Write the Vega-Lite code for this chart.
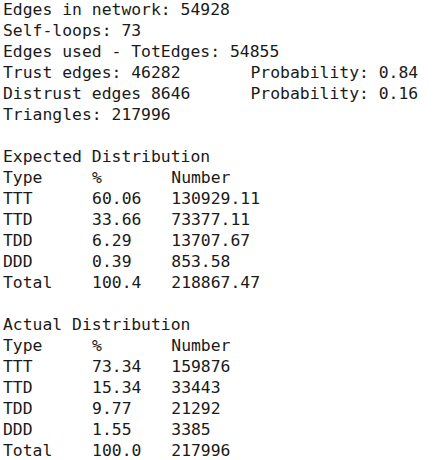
{
  "$schema": "https://vega.github.io/schema/vega-lite/v6.json",
  "width": 433,
  "height": 460,
  "padding": 0,
  "autosize": "none",
  "background": "white",
  "config": {"view": {"stroke": null}},
  "data": {
    "values": [
      {"line": 0, "col": 0, "text": "Edges in network: 54928"},
      {"line": 1, "col": 0, "text": "Self-loops: 73"},
      {"line": 2, "col": 0, "text": "Edges used - TotEdges: 54855"},
      {"line": 3, "col": 0, "text": "Trust edges: 46282"},
      {"line": 3, "col": 25, "text": "Probability: 0.84"},
      {"line": 4, "col": 0, "text": "Distrust edges 8646"},
      {"line": 4, "col": 25, "text": "Probability: 0.16"},
      {"line": 5, "col": 0, "text": "Triangles: 217996"},
      {"line": 7, "col": 0, "text": "Expected Distribution"},
      {"line": 8, "col": 0, "text": "Type"},
      {"line": 8, "col": 9, "text": "%"},
      {"line": 8, "col": 17, "text": "Number"},
      {"line": 9, "col": 0, "text": "TTT"},
      {"line": 9, "col": 9, "text": "60.06"},
      {"line": 9, "col": 17, "text": "130929.11"},
      {"line": 10, "col": 0, "text": "TTD"},
      {"line": 10, "col": 9, "text": "33.66"},
      {"line": 10, "col": 17, "text": "73377.11"},
      {"line": 11, "col": 0, "text": "TDD"},
      {"line": 11, "col": 9, "text": "6.29"},
      {"line": 11, "col": 17, "text": "13707.67"},
      {"line": 12, "col": 0, "text": "DDD"},
      {"line": 12, "col": 9, "text": "0.39"},
      {"line": 12, "col": 17, "text": "853.58"},
      {"line": 13, "col": 0, "text": "Total"},
      {"line": 13, "col": 9, "text": "100.4"},
      {"line": 13, "col": 17, "text": "218867.47"},
      {"line": 15, "col": 0, "text": "Actual Distribution"},
      {"line": 16, "col": 0, "text": "Type"},
      {"line": 16, "col": 9, "text": "%"},
      {"line": 16, "col": 17, "text": "Number"},
      {"line": 17, "col": 0, "text": "TTT"},
      {"line": 17, "col": 9, "text": "73.34"},
      {"line": 17, "col": 17, "text": "159876"},
      {"line": 18, "col": 0, "text": "TTD"},
      {"line": 18, "col": 9, "text": "15.34"},
      {"line": 18, "col": 17, "text": "33443"},
      {"line": 19, "col": 0, "text": "TDD"},
      {"line": 19, "col": 9, "text": "9.77"},
      {"line": 19, "col": 17, "text": "21292"},
      {"line": 20, "col": 0, "text": "DDD"},
      {"line": 20, "col": 9, "text": "1.55"},
      {"line": 20, "col": 17, "text": "3385"},
      {"line": 21, "col": 0, "text": "Total"},
      {"line": 21, "col": 9, "text": "100.0"},
      {"line": 21, "col": 17, "text": "217996"}
    ]
  },
  "mark": {
    "type": "text",
    "align": "left",
    "baseline": "middle",
    "font": "DejaVu Sans Mono",
    "fontSize": 16.4,
    "color": "#1a1a1a"
  },
  "encoding": {
    "x": {"field": "col", "type": "quantitative", "axis": null, "scale": {"domain": [-0.3, 43.44], "nice": false, "zero": false}},
    "y": {"field": "line", "type": "quantitative", "axis": null, "scale": {"domain": [-0.476, 21.43], "nice": false, "zero": false, "reverse": true}},
    "text": {"field": "text"}
  }
}
